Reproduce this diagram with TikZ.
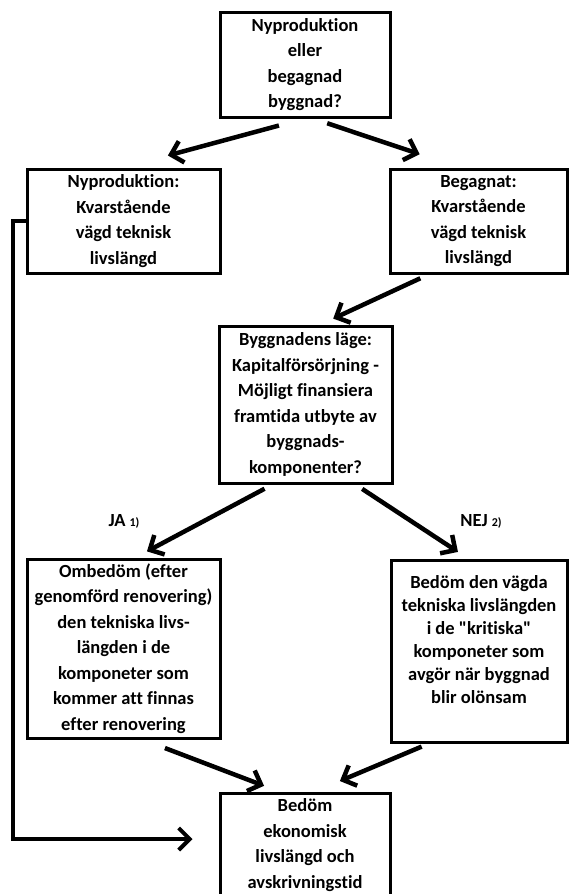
\documentclass[tikz,border=0pt]{standalone}
\usepackage{fontspec}
\setmainfont{Carlito}[Ligatures=NoCommon]
\usetikzlibrary{arrows.meta, positioning}
\tikzset{
  every picture/.style={font=\bfseries\fontsize{18.5}{25.5}\selectfont, line width=3pt},
  box/.style={draw, line width=3pt, align=center, inner sep=0pt},
  arrow/.style={-{Straight Barb[length=11pt, width=22pt]}, line width=4.5pt},
  lab/.style={font=\bfseries\fontsize{18.5}{22}\selectfont},
}

\begin{document}
\begin{tikzpicture}[x=1pt, y=-1pt]
\useasboundingbox (0,0) rectangle (568,894);
% question
\node[box, minimum width=170pt, minimum height=105pt] (q) at (305,64.5) {Nyproduktion\\eller\\begagnad\\byggnad?};
% new or used
\node[box, minimum width=193pt, minimum height=104pt] (nyprod) at (123.5,221) {Nyproduktion:\\Kvarstående\\vägd teknisk\\livslängd};
\node[box, minimum width=177pt, minimum height=104pt] (beg) at (478.5,221) {Begagnat:\\Kvarstående\\vägd teknisk\\livslängd};
% location
\node[box, minimum width=173pt, minimum height=157pt] (lage) at (305.5,404.5) {Byggnadens läge:\\Kapitalförsörjning -\\Möjligt finansiera\\framtida utbyte av\\byggnads-\\komponenter?};
\node[lab] (ja) at (124,521) {JA \textnormal{\bfseries\fontsize{12}{14}\selectfont 1)}};
\node[lab] (nej) at (481,521) {NEJ \textnormal{\bfseries\fontsize{12}{14}\selectfont 2)}};
% yes / no
\node[box, minimum width=193pt, minimum height=179pt] (omb) at (123.5,648.5) {Ombedöm (efter\\genomförd renovering)\\den tekniska livs-\\längden i de\\komponeter som\\kommer att finnas\\efter renovering};
\node[box, minimum width=176pt, minimum height=182pt, font=\bfseries\fontsize{18.5}{23}\selectfont] (bed) at (479,651) {Bedöm den vägda\\tekniska livslängden\\i de \textquotedbl kritiska\textquotedbl\\komponeter som\\avgör när byggnad\\blir olönsam\\\mbox{}};
% result
\node[box, minimum width=170pt, minimum height=104pt] (eko) at (305,845) {Bedöm\\ekonomisk\\livslängd och\\avskrivningstid};
\coordinate (fb) at (13,839);
\draw[arrow, shorten <=27pt, shorten >=46pt] (q.south) -- (nyprod.north);
\draw[arrow, shorten <=15pt, shorten >=42pt] ([xshift=8pt]q.south) -- ([xshift=-19pt]beg.north);
\draw[arrow, shorten <=9pt, shorten >=14pt] ([xshift=-50pt]beg.south) -- ([xshift=15pt]lage.north);
\draw[arrow, shorten <=9pt, shorten >=13pt] ([xshift=-33pt]lage.south) -- ([xshift=12pt]omb.north);
\draw[arrow, shorten <=8pt, shorten >=12pt] ([xshift=50pt]lage.south) -- ([xshift=-11pt]bed.north);
\draw[arrow, shorten <=24pt, shorten >=16pt] ([xshift=19pt]omb.south) -- ([xshift=-26pt]eko.north);
\draw[arrow, shorten <=8pt, shorten >=27pt] ([xshift=-50pt]bed.south) -- ([xshift=10pt]eko.north);
\draw[arrow, line width=4pt, shorten >=26pt] (nyprod.west) -| (fb) -- (fb -| eko.west);
\end{tikzpicture}
\end{document}
